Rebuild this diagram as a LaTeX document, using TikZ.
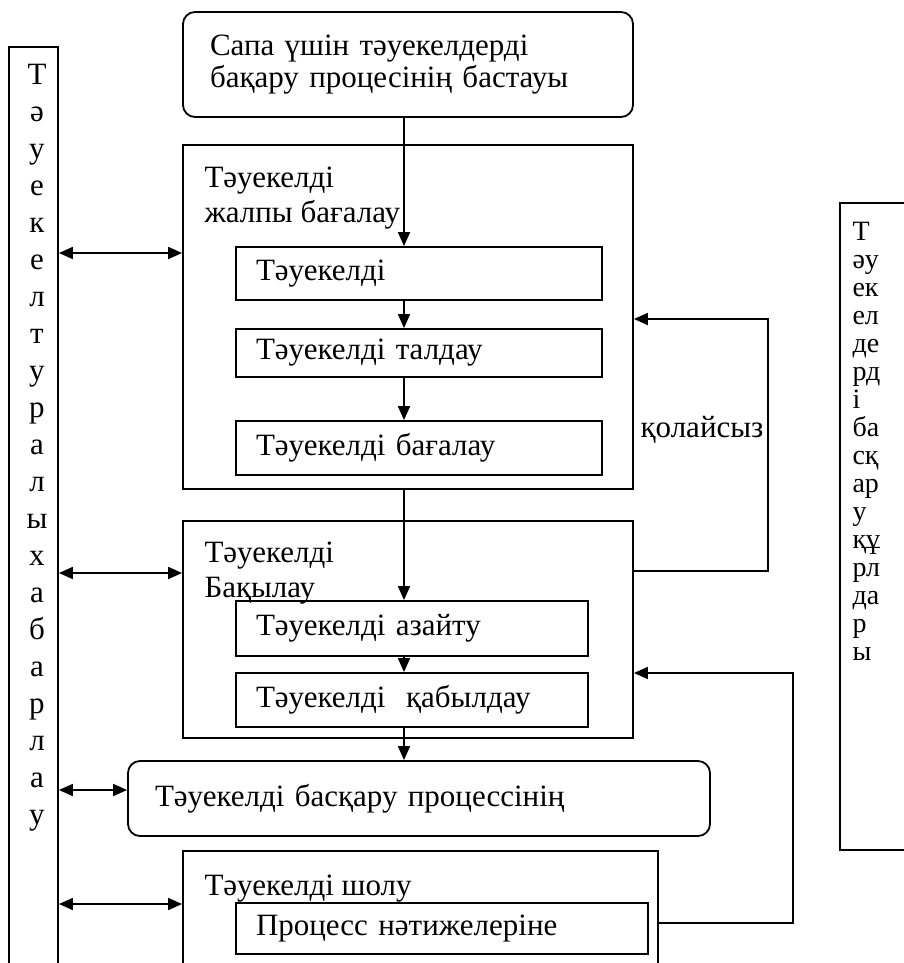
\documentclass[tikz,border=0pt]{standalone}
\usepackage{fontspec}
\setmainfont{Liberation Serif}
\usetikzlibrary{arrows.meta,positioning}

\begin{document}
\begin{tikzpicture}[x=0.5pt, y=-0.5pt,
    every node/.style={font=\fontsize{15.5}{16}\selectfont},
    frame/.style={draw, line width=0.9pt, inner sep=0pt},
    start/.style={frame, rounded corners=6pt, align=left, inner xsep=13.5pt},
    stepbox/.style={frame, align=left, inner xsep=10pt},
    title/.style={anchor=north west, align=left, inner sep=0pt, font=\fontsize{15.5}{17.5}\selectfont},
    arrow/.style={-{Triangle[length=7pt,width=6pt]}, line width=0.9pt},
    both/.style={{Triangle[length=7pt,width=6pt]}-{Triangle[length=7pt,width=6pt]}, line width=0.9pt}
  ]
  \clip (0,0) rectangle (904,963);
  \fill[white] (0,0) rectangle (904,963);

  \node[start, text width=198pt, minimum height=52.5pt] (begin) at (408,64.5) {Сапа үшін тәуекелдерді\\бақару процесінің бастауы};

  \node[frame, minimum width=225pt, minimum height=172pt] (assess) at (408,317) {};
  \node[title] (assessT) at ([shift={(11pt,-11pt)}]assess.north west) {Тәуекелді\\жалпы бағалау};
  \node[stepbox, text width=163pt, minimum height=26.5pt] (identify) at (419,273.5) {Тәуекелді};
  \node[stepbox, text width=163pt, minimum height=24pt] (analyse) at (419,353) {Тәуекелді талдау};
  \node[stepbox, text width=163pt, minimum height=27pt] (evaluate) at (419,448) {Тәуекелді бағалау};

  \node[frame, minimum width=225pt, minimum height=108.5pt] (control) at (408,629.5) {};
  \node[title] (controlT) at ([shift={(11pt,-10.5pt)}]control.north west) {Тәуекелді\\Бақылау};
  \node[stepbox, text width=156pt, minimum height=27.5pt] (reduce) at (412,628.5) {Тәуекелді азайту};
  \node[stepbox, text width=156pt, minimum height=27pt] (accept) at (412,700) {Тәуекелді~~қабылдау};

  \node[start, text width=264pt, minimum height=37.5pt] (result) at (419,798.5) {Тәуекелді басқару процессінің};

  \node[frame, minimum width=237.5pt, minimum height=72pt] (review) at (420.5,923) {};
  \node[title] (reviewT) at ([shift={(11pt,-12pt)}]review.north west) {Тәуекелді шолу};
  \node[stepbox, text width=186pt, minimum height=25.5pt] (outcome) at (442,928.5) {Процесс нәтижелеріне};

  % side columns
  \node[frame, minimum width=24.5pt, minimum height=481.5pt] (inform) at (33.5,528.5) {};
  \node[anchor=north, align=center, inner sep=0pt, font=\fontsize{15.5}{18.5}\selectfont] (informT) at ([shift={(1.75pt,-9pt)}]inform.north) {Т\\ә\\у\\е\\к\\е\\л\\т\\у\\р\\а\\л\\ы\\х\\а\\б\\а\\р\\л\\а\\у};
  \node[frame, minimum width=40pt, minimum height=323.5pt] (rules) at (880,526.5) {};
  \node[anchor=north west, align=left, inner sep=0pt, font=\fontsize{14}{14}\selectfont] (rulesT) at ([shift={(6.5pt,-10pt)}]rules.north west) {Т\\әу\\ек\\ел\\де\\рд\\і\\ба\\сқ\\ар\\у\\құ\\рл\\да\\р\\ы};

  \coordinate (spine) at (404,0);
  \coordinate (loopA) at (768,319);
  \coordinate (loopB) at (793,673);

  \draw[arrow] (begin.south -| spine) -- (identify.north -| spine);
  \draw[arrow] (identify.south -| spine) -- (analyse.north -| spine);
  \draw[arrow] (analyse.south -| spine) -- (evaluate.north -| spine);
  \draw[arrow] (assess.south -| spine) -- (reduce.north -| spine);
  \draw[arrow] (reduce.south -| spine) -- (accept.north -| spine);
  \draw[arrow] (accept.south -| spine) -- (result.north -| spine);

  \draw[arrow] (control.east |- 0,571) -| (loopA) -- (assess.east |- loopA);
  \node (unfit) at (702,430) {қолайсыз};
  \draw[arrow] (review.east |- 0,923) -| (loopB) -- (control.east |- loopB);

  \draw[both] (inform.east |- 0,253) -- (assess.west |- 0,253);
  \draw[both] (inform.east |- 0,573) -- (control.west |- 0,573);
  \draw[both] (inform.east |- 0,790) -- (result.west |- 0,790);
  \draw[both] (inform.east |- 0,904) -- (review.west |- 0,904);
\end{tikzpicture}
\end{document}
